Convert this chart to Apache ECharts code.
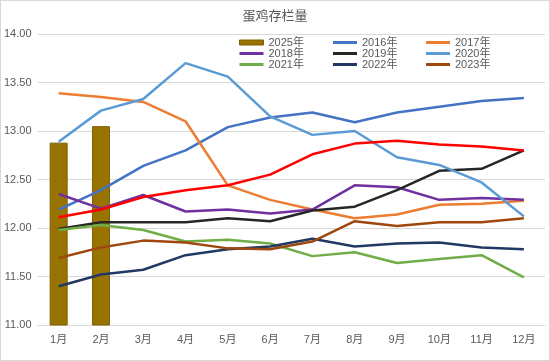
<!DOCTYPE html>
<html><head><meta charset="utf-8">
<script src="https://cdn.jsdelivr.net/npm/echarts@6/dist/echarts.min.js"></script>
<style>html,body{margin:0;padding:0;background:#fff}#c{width:548px;height:359px;border:1px solid #d9d9d9;}</style>
</head><body><div id="c"></div>
<script>
const months = ['1月','2月','3月','4月','5月','6月','7月','8月','9月','10月','11月','12月'];
const y2025 = [12.88, 13.05];
const y2016 = [12.19,12.39,12.64,12.80,13.04,13.14,13.19,13.09,13.19,13.25,13.31,13.34];
const y2017 = [13.39,13.35,13.30,13.10,12.44,12.29,12.19,12.10,12.14,12.24,12.25,12.28];
const y2018 = [12.35,12.20,12.34,12.17,12.19,12.15,12.19,12.44,12.42,12.29,12.31,12.29];
const y2019 = [11.99,12.06,12.06,12.06,12.10,12.07,12.18,12.22,12.39,12.59,12.61,12.80];
const y2020 = [12.89,13.21,13.33,13.70,13.56,13.15,12.96,13.00,12.73,12.65,12.47,12.12];
const y2021 = [11.98,12.03,11.98,11.86,11.88,11.84,11.71,11.75,11.64,11.68,11.72,11.49];
const y2022 = [11.40,11.52,11.57,11.72,11.78,11.81,11.89,11.81,11.84,11.85,11.80,11.78];
const y2023 = [11.69,11.80,11.87,11.85,11.79,11.78,11.86,12.07,12.02,12.06,12.06,12.10];
const y2024 = [12.11,12.19,12.32,12.39,12.44,12.55,12.76,12.87,12.90,12.86,12.84,12.80];
const yTicks = {min:11, max:14, interval:0.5};

const chart = echarts.init(document.getElementById('c'));
function line(name, data, color){
  return {name, type:'line', data, symbol:'none', smooth:false, lineStyle:{width:2.5, color}, itemStyle:{color}, z:3};
}
const LINE_ICON = 'path://M0,0L0,0M0,1L24,1L24,4L0,4ZM0,5L0,5';
const legendText = {color:'#595959', fontSize:11, lineHeight:11, fontFamily:'Liberation Sans, Noto Sans CJK SC'};
function li(name){ return {name, icon:LINE_ICON}; }
function lg(left, names){
  return {left, top:36, orient:'vertical', itemGap:0, itemWidth:24, itemHeight:5, textStyle:legendText, data:names, selectedMode:false, padding:0};
}
chart.setOption({
  animation:false,
  title:{text:'蛋鸡存栏量', left:'center', top:3, textStyle:{fontSize:13, fontWeight:'normal', color:'#595959', fontFamily:'Noto Sans CJK SC'}},
  legend:[
    lg(238, [{name:'2025年', icon:'rect', itemStyle:{borderColor:'#7f6000', borderWidth:1}}, li('2018年'), li('2021年')]),
    lg(332, [li('2016年'), li('2019年'), li('2022年')]),
    lg(425, [li('2017年'), li('2020年'), li('2023年')])
  ],
  grid:{left:36, right:4, top:33, bottom:35},
  xAxis:{type:'category', data:months, boundaryGap:true,
    axisLine:{lineStyle:{color:'#d9d9d9'}}, axisTick:{show:false},
    axisLabel:{color:'#595959', fontSize:11, margin:9, fontFamily:'Liberation Sans, Noto Sans CJK SC'}},
  yAxis:{type:'value', min:yTicks.min, max:yTicks.max, interval:yTicks.interval,
    axisLine:{show:false}, axisTick:{show:false},
    splitLine:{lineStyle:{color:'#d9d9d9', width:1}},
    axisLabel:{color:'#595959', fontSize:11, margin:6, formatter:v=>v.toFixed(2), fontFamily:'Liberation Sans'}},
  series:[
    {name:'2025年', type:'bar', data:y2025, barWidth:18, itemStyle:{color:'#997300', borderColor:'#7f6000', borderWidth:1}, z:2},
    line('2016年', y2016, '#4472c4'),
    line('2017年', y2017, '#ed7d31'),
    line('2018年', y2018, '#7030a0'),
    line('2019年', y2019, '#262626'),
    line('2020年', y2020, '#5b9bd5'),
    line('2021年', y2021, '#70ad47'),
    line('2022年', y2022, '#203864'),
    line('2023年', y2023, '#9e480e'),
    line('2024年', y2024, '#ff0000')
  ]
});
</script></body></html>
